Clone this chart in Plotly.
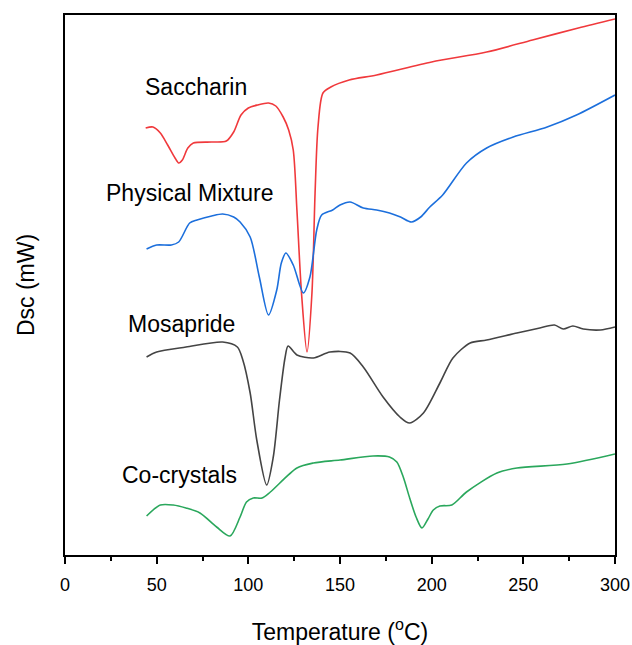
import plotly.graph_objects as go

# DSC traces (temperature in °C, signal in arbitrary units)
sacch_T = [44, 48, 52, 56, 60, 62, 64, 67, 70, 80, 88, 92, 96, 100, 105, 111, 115, 119, 122, 124.5, 126.5,
           129, 132, 134.7, 136.4, 138, 140.7, 145, 155, 170, 200, 230, 255, 280, 300]
sacch_y = [42.7, 42.8, 42.2, 41.0, 39.7, 39.2, 39.5, 40.7, 41.2, 41.3, 41.4, 42.3, 44.0, 44.7, 45.0, 45.2,
           44.9, 43.8, 42.5, 40.5, 34.5, 26.2, 20.3, 26.2, 36.2, 42.8, 46.2, 46.8, 47.5, 48.0, 49.3, 50.3,
           51.5, 52.7, 53.6]

phys_T = [44.5, 50, 58, 62, 68, 72, 80, 86, 92, 95.5, 101, 106, 111, 115.5, 118, 120.5, 124.5, 130, 133.6,
          137.3, 140, 146, 150, 155.5, 162.7, 170, 177, 183, 189, 194, 199, 206, 219, 230, 244.5, 263, 279, 300]
phys_y = [30.6, 31.0, 31.0, 31.3, 33.2, 33.5, 33.9, 34.1, 33.8, 33.3, 31.8, 27.8, 24.0, 26.5, 29.2, 30.2,
          29.0, 26.2, 27.8, 32.5, 34.0, 34.5, 35.0, 35.3, 34.7, 34.5, 34.2, 33.8, 33.3, 33.8, 34.8, 36.0,
          39.2, 40.7, 41.8, 42.8, 44.0, 46.0]

mosa_T = [44.5, 50, 66, 86, 94, 97, 101, 104.6, 110, 113.6, 117, 120, 121.7, 126.5, 135.5, 144.5, 155.5,
          162.7, 173.5, 182.7, 188, 195.5, 204.5, 211.6, 221, 230, 246.5, 259, 267, 271.8, 277, 282.7, 292, 300]
mosa_y = [19.8, 20.3, 20.8, 21.3, 20.8, 19.5, 16.2, 11.5, 7.0, 9.8, 15.5, 19.7, 20.9, 20.0, 19.7, 20.3,
          20.2, 18.8, 15.8, 13.8, 13.2, 14.2, 17.2, 19.7, 21.2, 21.5, 22.2, 22.7, 23.0, 22.6, 22.9, 22.6,
          22.5, 22.8]

cocr_T = [44.5, 52, 59, 66, 73.6, 82.7, 90, 95.5, 99, 102.7, 107.5, 112, 126.5, 135.5, 150, 168, 177, 181,
          184.5, 188, 191.5, 194.7, 198, 200.9, 204.5, 211, 219, 235.6, 246.5, 273.8, 300]
cocr_y = [3.9, 5.0, 5.0, 4.7, 4.2, 2.8, 1.9, 3.8, 5.3, 5.7, 5.7, 6.3, 8.7, 9.2, 9.5, 9.9, 9.8, 9.3,
          7.8, 5.7, 3.8, 2.7, 3.6, 4.5, 4.9, 5.0, 6.3, 8.2, 8.7, 9.1, 10.1]

x_ticks = [0, 50, 100, 150, 200, 250, 300]

series = [
    ("Saccharin", sacch_T, sacch_y, "#f0393c"),
    ("Physical Mixture", phys_T, phys_y, "#1c6fdc"),
    ("Mosapride", mosa_T, mosa_y, "#444444"),
    ("Co-crystals", cocr_T, cocr_y, "#2aa75c"),
]

FONT = "Liberation Sans, Arial"

fig = go.Figure()
for name, xs, ys, col in series:
    fig.add_trace(go.Scatter(x=xs, y=ys, mode="lines", name=name,
                             line=dict(color=col, width=1.6, shape="spline", smoothing=0.8)))

labels = [("Saccharin", 71.5, 46.8), ("Physical Mixture", 68, 36.2),
          ("Mosapride", 63.3, 23.1), ("Co-crystals", 62.5, 8.0)]
for txt, lx, ly in labels:
    fig.add_annotation(x=lx, y=ly, text=txt, showarrow=False, xanchor="center", yanchor="middle",
                       font=dict(family=FONT, size=23, color="black"))

fig.update_layout(
    width=632, height=645,
    margin=dict(l=65, r=17, t=15, b=90, autoexpand=False),
    paper_bgcolor="white", plot_bgcolor="white",
    showlegend=False,
    font=dict(family=FONT, color="black"),
)
fig.update_xaxes(range=[0, 300], tickvals=x_ticks, ticks="outside", ticklen=7, tickwidth=2,
                 tickcolor="black", showline=True, linecolor="black", linewidth=2, mirror=True,
                 showgrid=False, zeroline=False, tickfont=dict(size=18), automargin=False,
                 ticklabelstandoff=5,
                 minor=dict(dtick=25, tick0=0, ticks="outside", ticklen=4, tickwidth=2, tickcolor="black"),
                 title=dict(text="Temperature (<sup>o</sup>C)", font=dict(size=23), standoff=33))
fig.update_yaxes(range=[0, 54], showticklabels=False, ticks="", showline=True, linecolor="black",
                 linewidth=2, mirror=True, showgrid=False, zeroline=False, automargin=False,
                 title=dict(text="Dsc (mW)", font=dict(size=23), standoff=22))

fig.write_html("out.html", config={"displayModeBar": False},
               post_script="document.body.style.margin='0';document.body.style.overflow='hidden';")
